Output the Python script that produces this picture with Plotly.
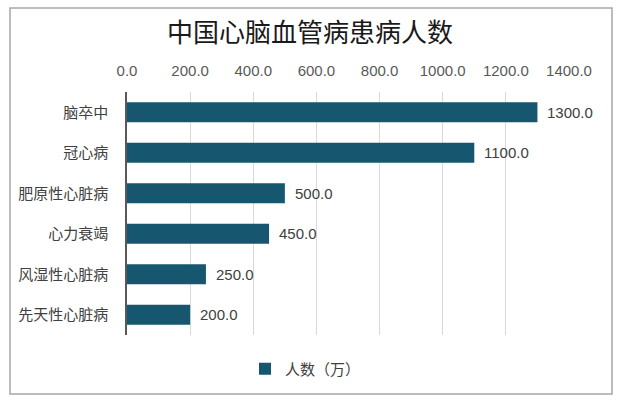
import plotly.graph_objects as go

categories = ["脑卒中", "冠心病", "肥原性心脏病", "心力衰竭", "风湿性心脏病", "先天性心脏病"]
values = [1300.0, 1100.0, 500.0, 450.0, 250.0, 200.0]
x_ticks = [0, 200, 400, 600, 800, 1000, 1200, 1400]
series_name = "人数（万）"
title_text = "中国心脑血管病患病人数"

W, H = 640, 401
L, R, T, B = 127, 71, 92, 66
pw, ph = W - L - R, H - T - B

def px_x(p):
    return (p - L) / pw

def px_y(p):
    return (H - B - p) / ph

font_family = "Liberation Sans, Noto Sans CJK SC, sans-serif"
bar_color = "#16566E"

fig = go.Figure()
fig.add_trace(go.Bar(
    y=categories, x=values, orientation="h",
    marker=dict(color=bar_color, line=dict(width=0)),
    name=series_name, showlegend=True, width=0.49,
))

for c, v in zip(categories, values):
    fig.add_annotation(x=v, y=c, xref="x", yref="y", text=f"{v:.1f}",
                       showarrow=False, xanchor="left", xshift=8,
                       font=dict(size=15, color="#404040", family=font_family))

fig.add_shape(type="rect", xref="paper", yref="paper",
              x0=px_x(10), x1=px_x(612), y0=px_y(394), y1=px_y(8),
              line=dict(color="#a6a6a6", width=1.5), layer="below")

fig.update_layout(
    width=W, height=H,
    margin=dict(l=L, r=R, t=T, b=B, pad=0),
    paper_bgcolor="white", plot_bgcolor="white",
    font=dict(family=font_family, size=15, color="#404040"),
    title=dict(text=title_text, x=310 / W, xanchor="center", y=1 - 33 / H, yanchor="middle",
               font=dict(size=26, color="#1a1a1a", family=font_family)),
    xaxis=dict(range=[0, 1400], tickvals=x_ticks, tickformat=".1f", side="top",
               showgrid=True, gridcolor="#d9d9d9", gridwidth=1, zeroline=False,
               showline=False, ticks="", ticklabelstandoff=12,
               tickfont=dict(size=15, color="#595959")),
    yaxis=dict(autorange="reversed", showline=True, linecolor="#595959", linewidth=1.5,
               ticks="", ticklabelstandoff=14, showgrid=False,
               tickfont=dict(size=15, color="#404040")),
    legend=dict(orientation="h", x=px_x(245), xanchor="left", y=px_y(369), yanchor="middle",
                font=dict(size=15, color="#404040"), bgcolor="rgba(0,0,0,0)"),
    bargap=0.5,
)

fig.write_html("out.html")
